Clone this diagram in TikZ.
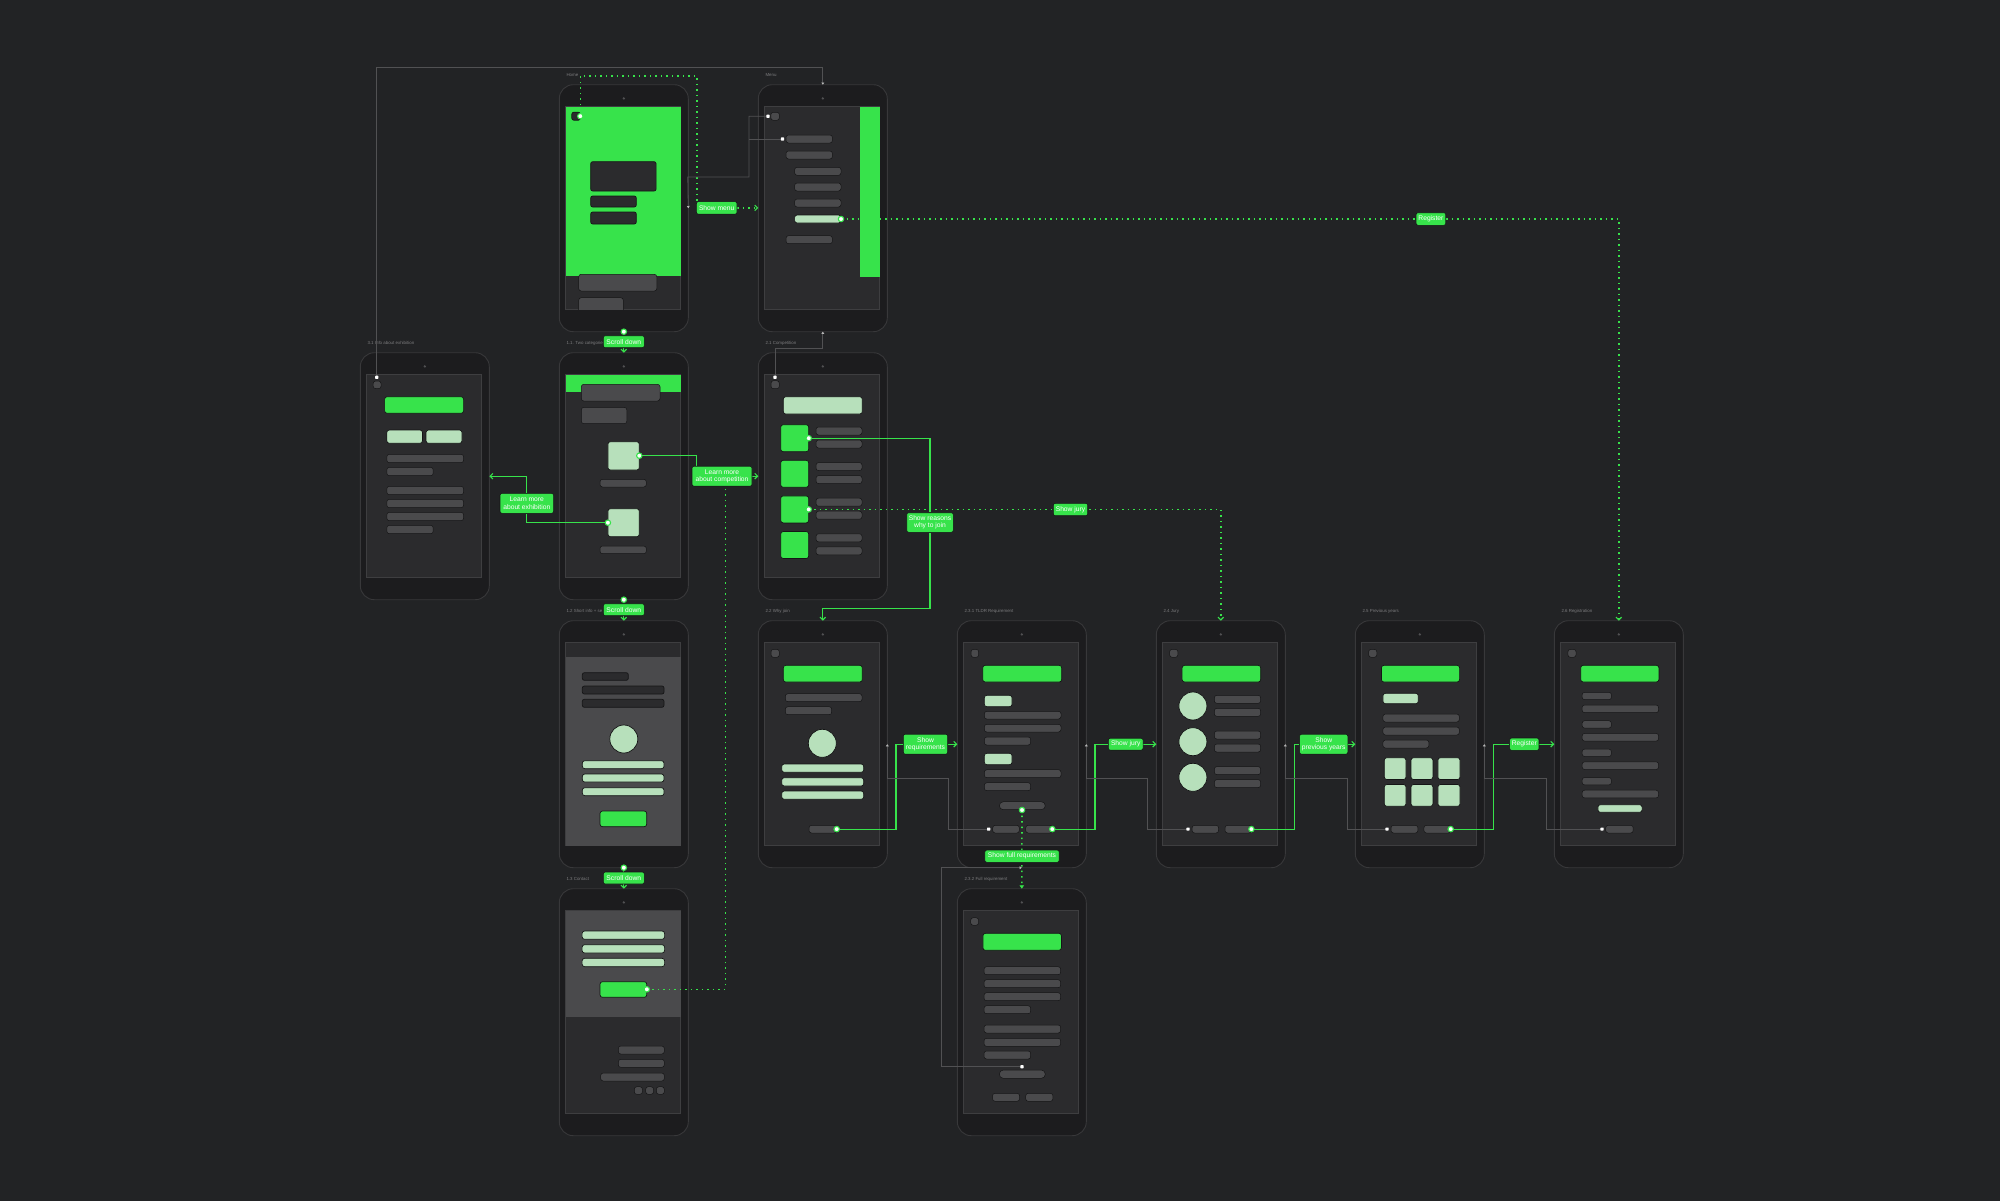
\documentclass[tikz,border=0pt]{standalone}
\usepackage{fontspec}
\setsansfont{Liberation Sans}
\usetikzlibrary{arrows.meta}

\definecolor{bgC}{HTML}{222325}
\definecolor{phoneC}{HTML}{1C1C1E}
\definecolor{phoneL}{HTML}{38383A}
\definecolor{scrC}{HTML}{2B2B2D}
\definecolor{scrL}{HTML}{3E3E40}
\definecolor{barC}{HTML}{4A4A4C}
\definecolor{edgeC}{HTML}{151516}
\definecolor{gnC}{HTML}{37E34B}
\definecolor{lgC}{HTML}{B7E0BB}
\definecolor{paneC}{HTML}{4A4A4C}
\definecolor{backC}{HTML}{515153}
\definecolor{titleC}{HTML}{7C7C7E}
\definecolor{camC}{HTML}{505052}

\newcommand\tagfont{\sffamily\fontsize{6.7}{7.5}\selectfont}
\newcommand\titlefont{\sffamily\fontsize{4.4}{5}\selectfont}
\newcommand\bx[5]{\path[#1] (#2,#3) rectangle (#4,#5);}

\pgfdeclarelayer{ground}
\pgfdeclarelayer{frames}
\pgfdeclarelayer{links}
\pgfsetlayers{ground,frames,links,main}

% phone outline, screen, camera and title
\newcommand\phoneframe[4]{%
  \node[ptitle] (#1-title) at (#2+7,#3-9.4) {#4};
  \node[phonebody, anchor=north west] (#1) at (#2,#3) {};
  \node[screenbox, anchor=north west] (#1-screen) at (#2+6.5,#3+22) {};
  \fill[camC] (#2+64.5,#3+13.7) circle (1.3);
}

\begin{document}
\begin{tikzpicture}[x=1pt,y=-1pt,
  phonebody/.style={rectangle, rounded corners=14pt, fill=phoneC, draw=phoneL, line width=0.9pt,
    minimum width=129pt, minimum height=247pt, inner sep=0pt, outer sep=0pt},
  screenbox/.style={rectangle, fill=scrC, draw=scrL, line width=0.8pt,
    minimum width=115pt, minimum height=203pt, inner sep=0pt, outer sep=0pt},
  ptitle/.style={text=titleC, font=\titlefont, anchor=west, inner sep=0pt},
  gbar/.style={fill=barC, draw=edgeC, line width=0.5pt, rounded corners=2.5pt},
  lgbox/.style={fill=lgC, draw=edgeC, line width=0.7pt, rounded corners=2.5pt},
  gnbox/.style={fill=gnC, draw=edgeC, line width=0.7pt, rounded corners=2.5pt},
  dkbox/.style={fill=scrC, draw=edgeC, line width=0.7pt, rounded corners=2pt},
  flow/.style={draw=gnC, line width=1.1pt},
  flowdot/.style={draw=gnC, line width=1.6pt, dash pattern=on 1.6pt off 3.9pt},
  flowarrow/.style={-{Straight Barb[length=2.8pt,width=5.6pt,line width=1.1pt]}},
  droparrow/.style={-{Triangle[length=3.4pt,width=4.4pt]}},
  back/.style={draw=backC, line width=0.8pt},
  backarrow/.style={-{Triangle[length=2.2pt,width=2.8pt,color=white!72!black]}},
  tag/.style={rectangle, rounded corners=2pt, fill=gnC, draw=edgeC, line width=0.6pt,
    text=white, font=\tagfont, align=center, inner sep=0.8pt},
  hub/.style={circle, fill=white, draw=gnC, line width=1.1pt, minimum size=5.4pt, inner sep=0pt},
  pin/.style={rectangle, fill=white, minimum size=3.2pt, inner sep=0pt, rounded corners=0.6pt}
]
\useasboundingbox (0,0) rectangle (2000,1200);
\begin{pgfonlayer}{ground}
\fill[bgC] (-5,-5) rectangle (2005,1205);
\end{pgfonlayer}

\begin{pgfonlayer}{frames}
% ---------- Home ----------
\phoneframe{home}{559.3}{84.7}{Home}
\begin{scope}[shift={(559.3,84.7)}]
  \fill[gnC] (6.5,22) rectangle (121.5,191.5);
  \begin{scope}
    \clip (6.5,22) rectangle (121.5,225);
    \bx{gbar}{19.4}{189.6}{97.5}{206.3}
    \bx{gbar}{19.4}{213}{64}{229}
  \end{scope}
  \bx{dkbox}{31.4}{77}{96.8}{106.3}
  \bx{dkbox}{31.4}{111.3}{77}{122.3}
  \bx{dkbox}{31.4}{127.3}{77}{139.3}
  \bx{dkbox}{12.5}{27.5}{21}{35.5}
  \coordinate (home-tog) at (21,31.5);
\end{scope}

% ---------- Menu ----------
\phoneframe{menu}{758.3}{84.7}{Menu}
\begin{scope}[shift={(758.3,84.7)}]
  \fill[gnC] (101.7,22) rectangle (121.5,192);
  \bx{gbar}{12.5}{27.6}{21.1}{35.6}
  \coordinate (menu-close) at (9.7,31.6);
  \bx{gbar}{27.7}{50.3}{74.1}{58.3}
  \coordinate (menu-home) at (24.2,54.3);
  \bx{gbar}{27.7}{66.3}{74.1}{74.3}
  \bx{gbar}{36.3}{82.6}{82.7}{90.6}
  \bx{gbar}{36.3}{98.3}{82.7}{106.3}
  \bx{gbar}{36.3}{114.3}{82.7}{122.3}
  \bx{lgbox}{36.3}{130.3}{82.7}{138.3}
  \coordinate (menu-reg) at (82.7,134.3);
  \bx{gbar}{27.7}{151}{74.1}{159}
\end{scope}

% ---------- 3.1 Info about exhibition ----------
\phoneframe{info}{360.3}{352.7}{3.1 Info about exhibition}
\begin{scope}[shift={(360.3,352.7)}]
  \coordinate (info-back) at (16.5,24.6);
  \bx{gbar}{12.9}{28.3}{20.7}{36}
  \bx{gnbox}{24.3}{44}{103.3}{60.6}
  \bx{lgbox}{26.5}{77.3}{62.2}{90.6}
  \bx{lgbox}{65.7}{77.3}{101.7}{90.6}
  \bx{gbar}{26.5}{101.6}{103.3}{110}
  \bx{gbar}{26.5}{114.6}{72.9}{123}
  \bx{gbar}{26.5}{133.6}{103.3}{142}
  \bx{gbar}{26.5}{146.6}{103.3}{155}
  \bx{gbar}{26.5}{159.6}{103.3}{168}
  \bx{gbar}{26.5}{172.6}{72.9}{181}
\end{scope}

% ---------- 1.1 Two categories ----------
\phoneframe{cat}{559.3}{352.7}{1.1. Two categories}
\begin{scope}[shift={(559.3,352.7)}]
  \fill[gnC] (6.5,22) rectangle (121.5,39);
  \bx{gbar}{22}{31.6}{100.7}{48.3}
  \bx{gbar}{22}{54.6}{67.5}{71}
  \bx{lgbox}{48.6}{89}{80}{117.3}
  \coordinate (cat-a) at (80,103);
  \bx{gbar}{40.7}{126.6}{87}{134.3}
  \bx{lgbox}{48.6}{156}{80}{184}
  \coordinate (cat-b) at (48.6,170);
  \bx{gbar}{40.7}{193.3}{87}{201}
\end{scope}

% ---------- 2.1 Competition ----------
\phoneframe{comp}{758.3}{352.7}{2.1 Competition}
\begin{scope}[shift={(758.3,352.7)}]
  \coordinate (comp-back) at (16.7,24.6);
  \bx{gbar}{12.7}{28}{21}{36}
  \bx{lgbox}{25}{44}{104}{61.3}
  \foreach \t in {72,107.6,143.2,178.8}{
    \bx{gnbox}{22.4}{\t}{50.4}{\t+27}
    \bx{gbar}{57.7}{\t+2.3}{103.7}{\t+10.3}
    \bx{gbar}{57.7}{\t+15.3}{103.7}{\t+23.3}
  }
  \coordinate (comp-a) at (50.4,85.5);
  \coordinate (comp-c) at (50.4,156.7);
\end{scope}

% ---------- 1.2 Short info ----------
\phoneframe{short}{559.3}{620.7}{1.2 Short info + se}
\begin{scope}[shift={(559.3,620.7)}]
  \fill[paneC] (6.5,36) rectangle (121.5,225);
  \bx{dkbox}{23}{52}{69}{59.6}
  \bx{dkbox}{23}{65.3}{104.7}{73.3}
  \bx{dkbox}{23}{78.6}{104.7}{86.6}
  \path[lgbox] (64.5,118.3) circle (14);
  \bx{lgbox}{23}{140}{104.7}{148}
  \bx{lgbox}{23}{153.3}{104.7}{161.3}
  \bx{lgbox}{23}{167}{104.7}{175}
  \bx{gnbox}{40.7}{190.3}{87.4}{206}
\end{scope}

% ---------- 2.2 Why join ----------
\phoneframe{why}{758.3}{620.7}{2.2 Why join}
\begin{scope}[shift={(758.3,620.7)}]
  \bx{gbar}{12.7}{28.6}{21}{36.6}
  \bx{gnbox}{25}{44.6}{104}{61.3}
  \bx{gbar}{27}{73}{103.7}{81}
  \bx{gbar}{27}{86}{73.4}{94}
  \path[lgbox] (64,122.6) circle (14);
  \bx{lgbox}{23.4}{143.3}{105.4}{151.6}
  \bx{lgbox}{23.4}{157}{105.4}{165.3}
  \bx{lgbox}{23.4}{170.3}{105.4}{178.6}
  \bx{gbar}{50.7}{204.6}{78.4}{212.3}
  \coordinate (why-go) at (78.4,208.4);
\end{scope}

% ---------- 2.3.1 TLDR Requirement ----------
\phoneframe{tldr}{957.3}{620.7}{2.3.1 TLDR Requirement}
\begin{scope}[shift={(957.3,620.7)}]
  \bx{gbar}{13.7}{28.6}{21.4}{36.6}
  \bx{gnbox}{25.4}{44.6}{104.4}{61.3}
  \bx{lgbox}{27}{74.6}{54.7}{86}
  \bx{gbar}{27}{90.6}{103.7}{98.3}
  \bx{gbar}{27}{103.6}{103.7}{111.3}
  \bx{gbar}{27}{116.3}{73.4}{124.3}
  \bx{lgbox}{27}{132.6}{54.7}{144}
  \bx{gbar}{27}{149}{103.7}{157}
  \bx{gbar}{27}{162}{73.4}{170}
  \path[gbar, rounded corners=4pt] (42,181) rectangle (88,189);
  \bx{gbar}{35.4}{204.6}{62}{212.3}
  \bx{gbar}{68.4}{204.6}{95}{212.3}
  \coordinate (tldr-full) at (64.7,189.3);
  \coordinate (tldr-back) at (31.4,208.4);
  \coordinate (tldr-go) at (95,208.4);
\end{scope}

% ---------- 2.3.2 Full requirement ----------
\phoneframe{full}{957.3}{888.7}{2.3.2 Full requirement}
\begin{scope}[shift={(957.3,888.7)}]
  \bx{gbar}{13.4}{29}{21.3}{36.6}
  \bx{gnbox}{25.6}{44.6}{104.1}{61.6}
  \bx{gbar}{26.7}{78}{103.4}{86}
  \bx{gbar}{26.7}{91}{103.4}{99}
  \bx{gbar}{26.7}{104}{103.4}{112}
  \bx{gbar}{26.7}{117}{73.4}{125}
  \bx{gbar}{26.7}{136.3}{103.4}{144.3}
  \bx{gbar}{26.7}{149.6}{103.4}{157.6}
  \bx{gbar}{26.7}{162.3}{73.4}{170.3}
  \path[gbar, rounded corners=4pt] (42,181.3) rectangle (88,189.6);
  \bx{gbar}{35.2}{204.6}{62.3}{212.6}
  \bx{gbar}{68.4}{204.6}{95.6}{212.6}
  \coordinate (full-back) at (64.7,178);
\end{scope}

% ---------- 1.3 Contact ----------
\phoneframe{contact}{559.3}{888.7}{1.3 Contact}
\begin{scope}[shift={(559.3,888.7)}]
  \fill[paneC] (6.5,22) rectangle (121.5,128.6);
  \bx{lgbox}{22.8}{42.3}{105.3}{50.6}
  \bx{lgbox}{22.8}{56}{105.3}{64.3}
  \bx{lgbox}{22.8}{69.6}{105.3}{78}
  \bx{gnbox}{40.7}{93}{87.5}{108.6}
  \coordinate (contact-go) at (87.5,100.6);
  \bx{gbar}{59}{157.3}{105}{165.3}
  \bx{gbar}{59}{170.6}{105}{178.6}
  \bx{gbar}{41.4}{184.3}{105}{192.3}
  \bx{gbar}{75}{198}{83.2}{205.6}
  \bx{gbar}{86.4}{198}{94.3}{205.6}
  \bx{gbar}{97.1}{198}{105}{205.6}
\end{scope}

% ---------- 2.4 Jury ----------
\phoneframe{jury}{1156.3}{620.7}{2.4 Jury}
\begin{scope}[shift={(1156.3,620.7)}]
  \bx{gbar}{13.3}{28.6}{21.6}{36.6}
  \bx{gnbox}{25.8}{44.6}{104.4}{61.3}
  \foreach \c in {85.3,121,156.6}{
    \path[lgbox] (36.6,\c) circle (14);
    \bx{gbar}{58}{\c-10.7}{104.4}{\c-2.7}
    \bx{gbar}{58}{\c+2.3}{104.4}{\c+10.3}
  }
  \bx{gbar}{35.8}{204.6}{62.3}{212.3}
  \bx{gbar}{68.7}{204.6}{95.1}{212.3}
  \coordinate (jury-back) at (31.7,208.4);
  \coordinate (jury-go) at (95.1,208.4);
\end{scope}

% ---------- 2.5 Previous years ----------
\phoneframe{prev}{1355.3}{620.7}{2.5 Previous years}
\begin{scope}[shift={(1355.3,620.7)}]
  \bx{gbar}{13.3}{28.6}{21.5}{36.6}
  \bx{gnbox}{26.1}{44.6}{104.3}{61.3}
  \bx{lgbox}{27.6}{72.6}{63}{83}
  \bx{gbar}{27.6}{93.3}{104}{101.3}
  \bx{gbar}{27.6}{106.3}{104}{114.3}
  \bx{gbar}{27.6}{119.3}{73.6}{127.3}
  \foreach \r in {137,163.8}{
    \bx{lgbox}{29}{\r}{50.7}{\r+21.8}
    \bx{lgbox}{55.7}{\r}{77.6}{\r+21.8}
    \bx{lgbox}{82.6}{\r}{104.7}{\r+21.8}
  }
  \bx{gbar}{35.7}{204.6}{62.6}{212.3}
  \bx{gbar}{68.6}{204.6}{95.4}{212.3}
  \coordinate (prev-back) at (31.7,208.4);
  \coordinate (prev-go) at (95.4,208.4);
\end{scope}

% ---------- 2.6 Registration ----------
\phoneframe{reg}{1554.3}{620.7}{2.6 Registration}
\begin{scope}[shift={(1554.3,620.7)}]
  \bx{gbar}{13.6}{28.6}{21.7}{36.6}
  \bx{gnbox}{26.4}{44.6}{104.6}{61.3}
  \foreach \y in {71.6,100,128.4,156.8}{
    \bx{gbar}{27.8}{\y}{57.1}{\y+7.4}
    \bx{gbar}{27.8}{\y+12.7}{104.3}{\y+20.4}
  }
  \bx{lgbox}{43.6}{184}{87.8}{191.6}
  \bx{gbar}{51.4}{204.6}{78.9}{212.3}
  \coordinate (reg-back) at (47.7,208.4);
\end{scope}
\end{pgfonlayer}

% ---------- action tags ----------
\node[tag, minimum width=40.6pt, minimum height=12.6pt] (t-menu) at (716.7,207.9) {Show menu};
\node[tag, minimum width=41pt, minimum height=12pt] (t-s1) at (623.8,341.7) {Scroll down};
\node[tag, minimum width=41pt, minimum height=12pt] (t-s2) at (623.8,609.7) {Scroll down};
\node[tag, minimum width=41pt, minimum height=12pt] (t-s3) at (623.8,878) {Scroll down};
\node[tag, minimum width=60pt, minimum height=20pt] (t-comp) at (722,476.2) {Learn more\\about competition};
\node[tag, minimum width=53.6pt, minimum height=20pt] (t-exh) at (526.8,503.3) {Learn more\\about exhibition};
\node[tag, minimum width=46.6pt, minimum height=19.6pt] (t-why) at (930,522.5) {Show reasons\\why to join};
\node[tag, minimum width=34.4pt, minimum height=12.4pt] (t-jury1) at (1070.5,509.5) {Show jury};
\node[tag, minimum width=29.7pt, minimum height=12.6pt] (t-reg1) at (1430.9,219) {Register};
\node[tag, minimum width=44.4pt, minimum height=20pt] (t-req) at (925.5,744.2) {Show\\requirements};
\node[tag, minimum width=34.7pt, minimum height=12pt] (t-jury2) at (1125.7,744.2) {Show jury};
\node[tag, minimum width=48.3pt, minimum height=20pt] (t-prev) at (1323.7,744.2) {Show\\previous years};
\node[tag, minimum width=29.3pt, minimum height=12.4pt] (t-reg2) at (1524.3,744.2) {Register};
\node[tag, minimum width=74.3pt, minimum height=12.3pt] (t-full) at (1022,856.2) {Show full requirements};

% ---------- link ends ----------
\node[hub] (h-home) at (home-tog) {};
\node[hub] (h-menu) at (menu-reg) {};
\node[hub] (h-cat-a) at (cat-a) {};
\node[hub] (h-cat-b) at (cat-b) {};
\node[hub] (h-comp-a) at (comp-a) {};
\node[hub] (h-comp-c) at (comp-c) {};
\node[hub] (h-s1) at (home.south) {};
\node[hub] (h-s2) at (cat.south) {};
\node[hub] (h-s3) at (short.south) {};
\node[hub] (h-why) at (why-go) {};
\node[hub] (h-tldr-full) at (tldr-full) {};
\node[hub] (h-tldr) at (tldr-go) {};
\node[hub] (h-jury) at (jury-go) {};
\node[hub] (h-prev) at (prev-go) {};
\node[hub] (h-contact) at (contact-go) {};
\node[pin] (p-info) at (info-back) {};
\node[pin] (p-comp) at (comp-back) {};
\node[pin] (p-close) at (menu-close) {};
\node[pin] (p-home) at (menu-home) {};
\node[pin] (p-tldr) at (tldr-back) {};
\node[pin] (p-jury) at (jury-back) {};
\node[pin] (p-prev) at (prev-back) {};
\node[pin] (p-reg) at (reg-back) {};
\node[pin] (p-full) at (full-back) {};

% ---------- connectors ----------
\begin{pgfonlayer}{links}
\coordinate (menu-hop) at (696.8,75.7);
\coordinate (comp-hop) at (696.4,466.2);
\coordinate (comp-drop) at (725.4,486.2);
\coordinate (why-turn) at (930,608.3);
\coordinate (req-hop) at (896,744.2);
\coordinate (jury-hop) at (1095,744.2);
\coordinate (prev-hop) at (1294.6,744.2);
\coordinate (reg-hop) at (1493.6,744.2);

% green flows
\draw[flowdot] (h-home.center) |- (menu-hop) -- (menu-hop |- t-menu.north);
\draw[flowdot, flowarrow] (t-menu.east) -- (t-menu.east -| menu.west);
\draw[flowdot, flowarrow] (h-menu.center) -| (reg.north);
\draw[flow] (h-s1.center) -- (t-s1.north);
\draw[flow, flowarrow] (t-s1.south) -- (cat.north);
\draw[flow] (h-s2.center) -- (t-s2.north);
\draw[flow, flowarrow] (t-s2.south) -- (short.north);
\draw[flow] (h-s3.center) -- (t-s3.north);
\draw[flow, flowarrow] (t-s3.south) -- (contact.north);
\draw[flow] (h-cat-a.center) -| (comp-hop);
\draw[flow, flowarrow] (t-comp.east) -- (comp.west);
\draw[flowdot] (h-contact.center) -| (comp-drop);
\draw[flow] (h-cat-b.center) -| (t-exh.south);
\draw[flow, flowarrow] (t-exh.north) |- (info.east);
\draw[flow] (h-comp-a.center) -| (t-why.north);
\draw[flow, flowarrow] (t-why.south) -- (why-turn) -| (why.north);
\draw[flowdot, flowarrow] (h-comp-c.center) -| (jury.north);
\draw[flow] (h-why.center) -| (req-hop) -- (t-req.west);
\draw[flow, flowarrow] (t-req.east) -- (tldr.west);
\draw[flow] (h-tldr.center) -| (jury-hop) -- (t-jury2.west);
\draw[flow, flowarrow] (t-jury2.east) -- (jury.west);
\draw[flow] (h-jury.center) -| (prev-hop) -- (t-prev.west);
\draw[flow, flowarrow] (t-prev.east) -- (prev.west);
\draw[flow] (h-prev.center) -| (reg-hop) -- (t-reg2.west);
\draw[flow, flowarrow] (t-reg2.east) -- (reg.west);
\draw[flowdot, droparrow] (h-tldr-full.center) -- (full.north);

% grey return links
\draw[back, backarrow] (p-close.center) -| (749,177) -- (687.8,177) -- (home.east);
\draw[back] (p-home.center) -- (749,139);
\draw[back, backarrow] (p-info.center) |- (822.8,67.3) -- (menu.north);
\draw[back, backarrow] (p-comp.center) |- (822.8,348.3) -- (menu.south);
\draw[back, backarrow] (p-tldr.center) -| (948.3,778) -- (887.3,778) -- (why.east);
\draw[back, backarrow] (p-jury.center) -| (1147,778) -- (1086.3,778) -- (tldr.east);
\draw[back, backarrow] (p-prev.center) -| (1347,778) -- (1285.3,778) -- (jury.east);
\draw[back, backarrow] (p-reg.center) -| (1546,778) -- (1484.3,778) -- (prev.east);
\draw[back, backarrow] (p-full.center) -| (941.8,867.7) -- (tldr.south);
\end{pgfonlayer}
\end{tikzpicture}
\end{document}
